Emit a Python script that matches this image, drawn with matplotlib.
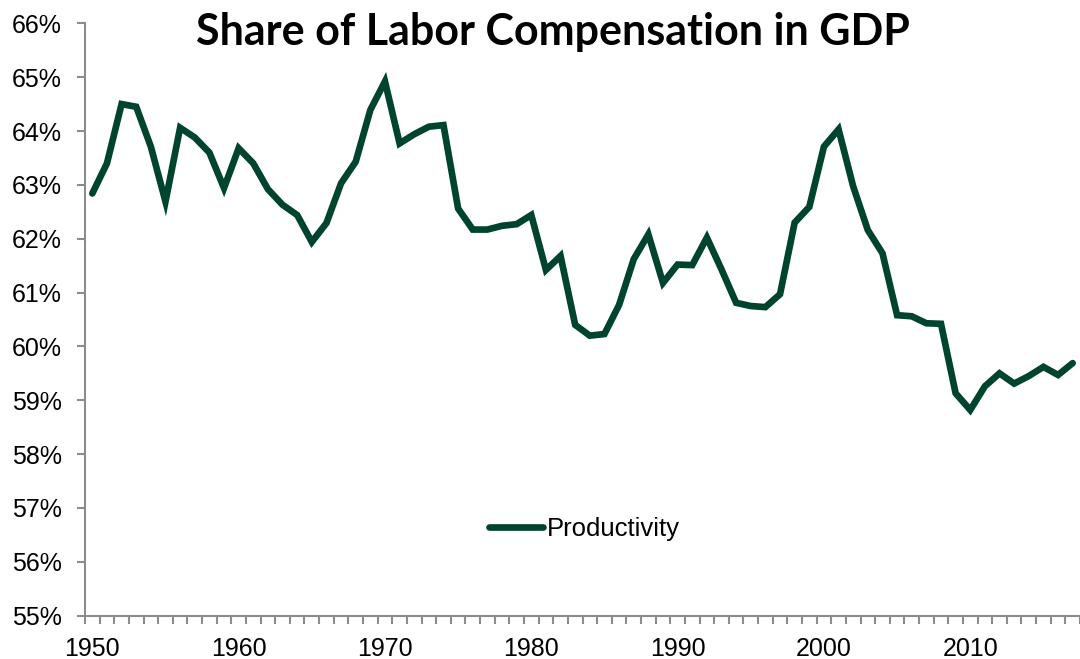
import matplotlib
matplotlib.use("Agg")
import matplotlib.pyplot as plt
from matplotlib.ticker import FixedLocator, FuncFormatter

# labor share of GDP, percent
years = list(range(1950, 2018))
labor_share = [
    62.84, 63.40, 64.50, 64.45, 63.71, 62.69, 64.06, 63.88, 63.60, 62.94,  # 1950s
    63.68, 63.40, 62.92, 62.63, 62.44, 61.94, 62.29, 63.03, 63.43, 64.39,  # 1960s
    64.92, 63.77, 63.94, 64.08, 64.11, 62.56, 62.17, 62.17, 62.24, 62.27,  # 1970s
    62.44, 61.42, 61.68, 60.40, 60.20, 60.23, 60.77, 61.62, 62.08, 61.18,  # 1980s
    61.52, 61.51, 62.02, 61.43, 60.81, 60.75, 60.73, 60.97, 62.30, 62.59,  # 1990s
    63.71, 64.03, 62.97, 62.16, 61.73, 60.58, 60.56, 60.43, 60.42, 59.13,  # 2000s
    58.82, 59.26, 59.50, 59.31, 59.45, 59.62, 59.47, 59.69,                # 2010s
]
series_name = "Productivity"
title = "Share of Labor Compensation in GDP"
y_ticks = list(range(55, 67))
x_labels = [1950, 1960, 1970, 1980, 1990, 2000, 2010]

line_color = "#00432f"
axis_color = "#8c8c8c"

plt.rcParams["font.family"] = ["Liberation Sans", "DejaVu Sans"]

fig = plt.figure(figsize=(10.8, 6.59), dpi=100)
ax = fig.add_axes([85 / 1080, 1 - 615.7 / 659, (1080 - 85) / 1080, (615.7 - 23.3) / 659])

ax.plot(years, labor_share, color=line_color, lw=4.8, solid_joinstyle="miter",
        solid_capstyle="round", label=series_name)

ax.set_xlim(years[0] - 0.5, years[-1] + 0.5)
ax.set_ylim(55, 66)

# spines
for side in ["top", "right"]:
    ax.spines[side].set_visible(False)
for side in ["left", "bottom"]:
    ax.spines[side].set_color(axis_color)
    ax.spines[side].set_linewidth(1.5)

# y axis
ax.set_yticks(y_ticks)
ax.yaxis.set_major_formatter(FuncFormatter(lambda v, p: f"{v:.0f}%"))
ax.tick_params(axis="y", direction="out", length=5.5, width=1.5, color=axis_color,
               labelsize=18, pad=11, labelcolor="black")

# x axis: tick marks between categories, labels on categories
ax.xaxis.set_major_locator(FixedLocator([y - 0.5 for y in years] + [years[-1] + 0.5]))
ax.xaxis.set_major_formatter(FuncFormatter(lambda v, p: ""))
ax.xaxis.set_minor_locator(FixedLocator(x_labels))
ax.xaxis.set_minor_formatter(FuncFormatter(lambda v, p: f"{v:.0f}"))
ax.tick_params(axis="x", which="major", direction="out", length=5.5, width=1.5,
               color=axis_color)
ax.tick_params(axis="x", which="minor", length=0, labelsize=18, pad=15,
               labelcolor="black")

fig.text(553 / 1080, 1 - 45 / 659, title, ha="center", va="baseline",
         fontsize=31, fontweight="bold", family=["Lato", "DejaVu Sans"])

fig.legend(loc="center left", bbox_to_anchor=(489 / 1080, 1 - 529 / 659),
           frameon=False, fontsize=18.5, handlelength=2.1, handletextpad=0.14,
           borderpad=0, borderaxespad=0)

fig.savefig("out.png", dpi=100)
